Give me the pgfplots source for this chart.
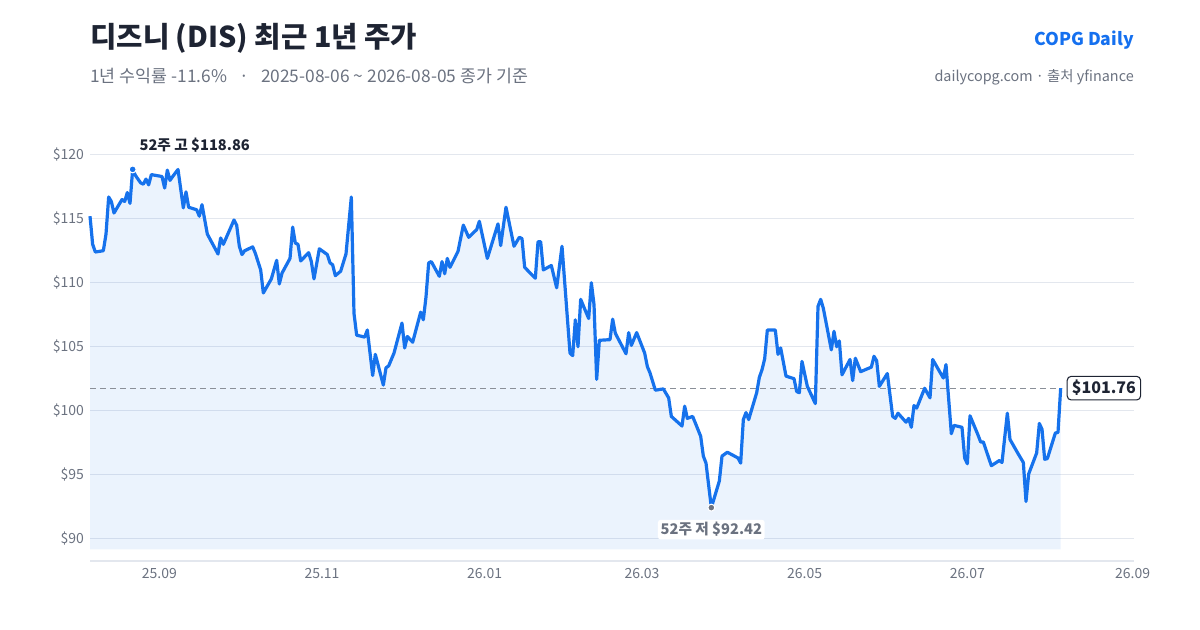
\documentclass[border=0pt]{standalone}
\usepackage{fontspec}
\setmainfont{Noto Sans CJK KR}
\usepackage{pgfplots}
\pgfplotsset{compat=1.18}
\usepackage{pgfplotstable}
\usepgfplotslibrary{fillbetween}

\definecolor{linec}{HTML}{1672EC}
\definecolor{titlec}{HTML}{1E2433}
\definecolor{subc}{HTML}{6B7280}
\definecolor{tickc}{HTML}{6B7280}
\definecolor{gridc}{HTML}{E3E7EE}
\definecolor{dashc}{HTML}{8A8F98}
\definecolor{brandc}{HTML}{1570EF}

% days since 2025-09-01, close in USD
\pgfplotstableread{
d v
-26 115.2
-25 113.0
-24 112.4
-21 112.5
-20 113.8
-19 116.7
-18 116.35
-17 115.45
-14 116.5
-13 116.35
-12 117.05
-11 116.2
-10 118.86
-9 118.4
-7 117.8
-6 117.7
-5 118.1
-4 117.65
-3 118.45
1 118.3
2 117.4
3 118.8
4 118.0
5 118.3
7 118.85
9 115.85
10 117.1
11 115.9
14 115.7
15 115.2
16 116.1
18 113.8
22 112.25
23 113.5
24 113.0
28 114.9
29 114.5
30 112.85
31 112.2
32 112.5
35 112.8
36 112.3
38 111.0
39 109.2
42 110.3
44 111.75
45 109.9
46 110.75
49 111.9
50 114.35
51 113.1
52 113.0
53 111.7
56 112.35
57 111.65
58 110.3
60 112.65
63 112.2
64 111.55
65 111.4
66 110.55
68 110.9
70 112.25
72 116.7
73 107.6
74 105.9
77 105.75
78 106.3
80 102.75
81 104.4
84 102.0
85 103.35
86 103.5
88 104.5
91 106.85
92 104.9
93 105.8
95 105.35
98 107.7
99 107.1
100 108.9
101 111.55
102 111.65
105 110.5
106 111.65
107 110.7
108 111.9
109 111.2
112 112.45
114 114.5
116 113.55
119 114.15
120 114.8
123 111.9
127 114.6
128 112.9
130 115.9
133 112.85
135 113.55
136 113.45
137 111.2
141 110.35
142 113.2
143 113.2
144 111.0
147 111.35
149 109.6
151 112.85
154 104.5
155 104.3
156 107.1
157 105.0
158 108.7
161 107.2
162 110.0
163 108.3
164 102.45
165 105.5
169 105.55
170 107.15
171 106.05
175 104.45
176 106.1
177 105.1
179 106.1
182 104.5
183 103.45
184 102.95
186 101.6
189 101.7
191 101.0
192 99.55
196 98.8
197 100.35
198 99.4
200 99.55
203 98.0
204 96.45
205 95.9
207 92.42
210 94.5
211 96.45
213 96.75
217 96.3
218 95.9
219 99.3
220 99.85
221 99.3
224 101.4
225 102.6
226 103.2
227 104.05
228 106.3
231 106.3
232 104.4
233 104.9
235 102.7
238 102.5
239 101.5
240 101.4
241 103.85
243 101.9
246 100.55
247 108.15
248 108.7
249 108.0
252 104.75
253 106.2
254 105.0
255 105.45
256 102.8
259 104.0
260 102.35
261 104.1
263 103.05
267 103.4
268 104.25
269 103.9
270 101.9
273 102.9
275 99.55
276 99.4
277 99.8
280 99.1
281 99.4
282 98.7
283 100.4
284 100.2
287 101.75
289 101.0
290 104.0
294 102.55
295 103.6
297 98.2
298 98.85
301 98.7
302 96.3
303 95.85
304 99.6
307 98.1
308 97.55
309 97.55
312 95.7
315 96.1
316 95.95
318 99.8
319 97.75
322 96.65
324 95.95
325 92.9
326 95.05
329 96.7
330 99.0
331 98.55
332 96.2
333 96.25
336 98.25
337 98.3
338 101.76
}\dis

\begin{document}
\begin{tikzpicture}
\begin{axis}[
    at={(67.5pt,51.75pt)}, anchor=south west,
    scale only axis, width=783pt, height=314.25pt,
    xmin=-26, xmax=365.5, ymin=88.25, ymax=121,
    clip=false,
    axis x line*=bottom, axis y line*=left,
    x axis line style={draw=gridc, line width=0.9pt, -},
    y axis line style={draw=none},
    major tick length=0pt,
    ytick={90,95,100,105,110,115,120},
    yticklabels={\$90,\$95,\$100,\$105,\$110,\$115,\$120},
    xtick={0,61,122,181,242,303,365},
    xticklabels={25.09,25.11,26.01,26.03,26.05,26.07,26.09},
    ymajorgrids, grid style={gridc, line width=0.75pt},
    tick label style={font=\fontsize{10.5pt}{12pt}\selectfont, text=tickc},
    yticklabel style={xshift=-1pt},
    xticklabel style={yshift=-2pt},
]
\addplot[draw=none, name path=base, forget plot] coordinates {(-26,89.16) (338,89.16)};
\addplot[draw=none, name path=main, forget plot] table[x=d, y=v] {\dis};
\addplot[fill=linec, fill opacity=0.085, draw=none] fill between[of=main and base];
\addplot[dashc, line width=0.9pt, dash pattern=on 4.5pt off 3pt] coordinates {(-26,101.76) (338,101.76)};
\addplot[linec, line width=2.4pt, line join=round] table[x=d, y=v] {\dis};
\addplot[only marks, mark=*, mark size=2.6pt, color=linec, mark options={draw=white, line width=0.8pt}] coordinates {(-10,118.86)};
\addplot[only marks, mark=*, mark size=2.6pt, color=subc, mark options={draw=white, line width=0.8pt}] coordinates {(207,92.42)};
\node[anchor=west, xshift=5pt, yshift=18pt, text=titlec, font=\fontsize{11pt}{13pt}\selectfont\bfseries, inner sep=0pt] at (axis cs:-10,118.86) {52주 고 \$118.86};
\node[fill=white, rounded corners=2pt, inner sep=2pt, yshift=-16.5pt, text=subc, font=\fontsize{11pt}{13pt}\selectfont\bfseries] at (axis cs:207,92.42) {52주 저 \$92.42};
\node[anchor=west, xshift=4.5pt, draw=titlec, line width=0.8pt, fill=white, rounded corners=3pt, inner xsep=3.5pt, inner ysep=3pt, text=titlec, font=\fontsize{12pt}{14pt}\selectfont\bfseries] at (axis cs:338,101.76) {\$101.76};
\end{axis}
\begin{scope}[x=0.75pt,y=0.75pt]
\node[anchor=west, text=titlec, font=\fontsize{21.5pt}{25pt}\selectfont\bfseries, inner sep=0pt] at (90,592) {디즈니 (DIS) 최근 1년 주가};
\node[anchor=west, text=subc, font=\fontsize{13pt}{15pt}\selectfont, inner sep=0pt] at (90,554) {1년 수익률 -11.6\%\hspace{0.7em}·\hspace{0.7em}2025-08-06 \textasciitilde{} 2026-08-05 종가 기준};
\node[anchor=east, text=brandc, font=\fontsize{13.2pt}{15pt}\selectfont\bfseries, inner sep=0pt] at (1134,590) {COPG Daily};
\node[anchor=east, text=subc, font=\fontsize{10.8pt}{13pt}\selectfont, inner sep=0pt] at (1134,553) {dailycopg.com · 출처 yfinance};
\path (0,0) rectangle (1200,630);
\end{scope}
\end{tikzpicture}
\end{document}
